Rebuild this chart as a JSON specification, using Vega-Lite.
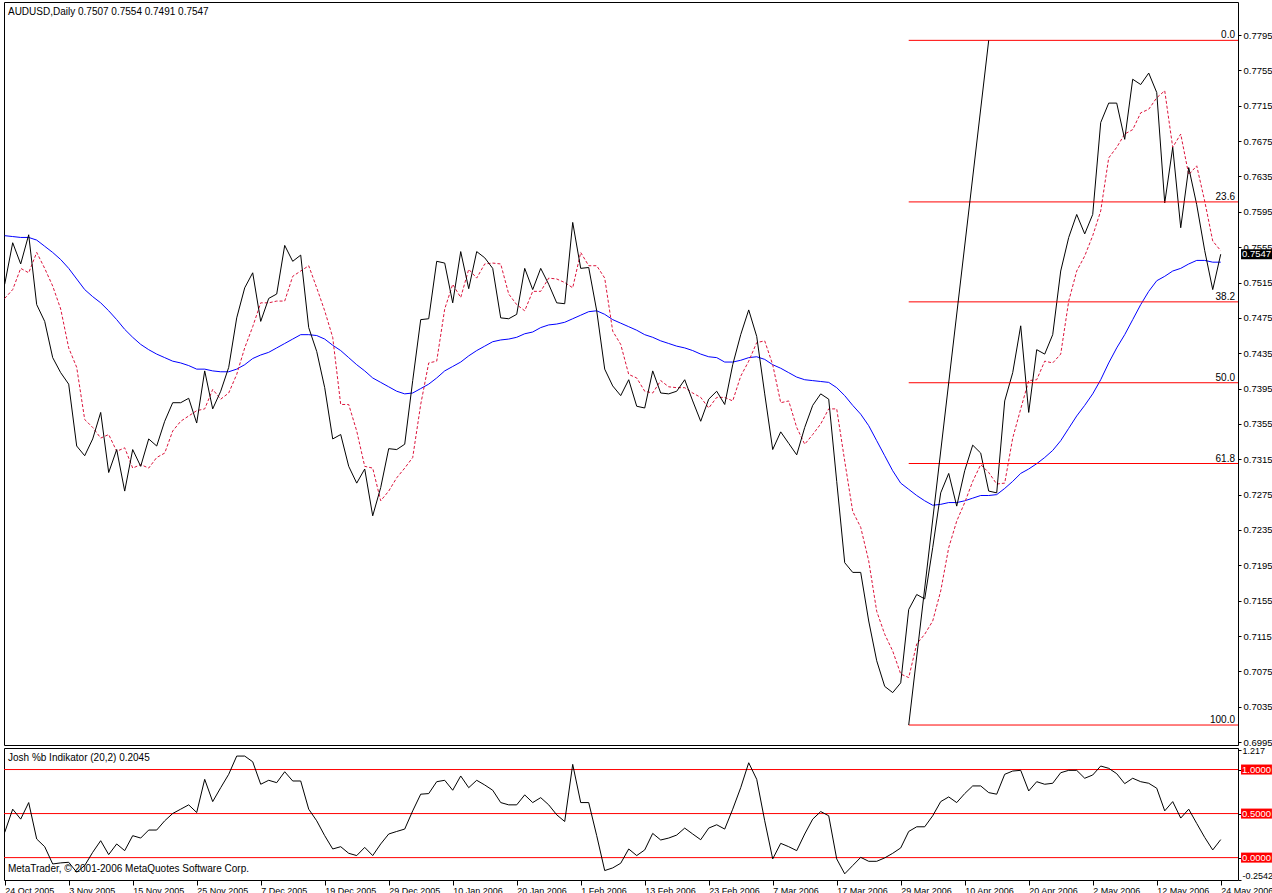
{
  "$schema": "https://vega.github.io/schema/vega-lite/v6.json",
  "padding": {"left": 2, "top": 1, "right": 0, "bottom": 0},
  "background": "#ffffff",
  "spacing": 3,
  "bounds": "flush",
  "config": {
    "view": {"stroke": "#000000", "strokeWidth": 1},
    "axis": {"domain": false, "grid": false, "tickColor": "#000000", "labelColor": "#000000", "labelFont": "Liberation Sans", "labelFontSize": 9.5, "labelOverlap": false, "labelBound": false},
    "text": {"font": "Liberation Sans", "fontSize": 10, "color": "#000000"}
  },
  "datasets": {
    "bars": [
      {"i":0,"close":0.7513,"fast":0.7497,"slow":0.7568,"pctb":0.286},
      {"i":1,"close":0.7560,"fast":0.7507,"slow":0.7567,"pctb":0.550},
      {"i":2,"close":0.7536,"fast":0.7531,"slow":0.7566,"pctb":0.437},
      {"i":3,"close":0.7569,"fast":0.7526,"slow":0.7566,"pctb":0.625},
      {"i":4,"close":0.7490,"fast":0.7549,"slow":0.7563,"pctb":0.211},
      {"i":5,"close":0.7471,"fast":0.7531,"slow":0.7556,"pctb":0.124},
      {"i":6,"close":0.7430,"fast":0.7511,"slow":0.7549,"pctb":-0.072},
      {"i":7,"close":0.7413,"fast":0.7485,"slow":0.7541,"pctb":-0.060},
      {"i":8,"close":0.7400,"fast":0.7441,"slow":0.7531,"pctb":-0.053},
      {"i":9,"close":0.7330,"fast":0.7419,"slow":0.7519,"pctb":-0.166},
      {"i":10,"close":0.7319,"fast":0.7360,"slow":0.7507,"pctb":-0.090},
      {"i":11,"close":0.7338,"fast":0.7351,"slow":0.7499,"pctb":0.060},
      {"i":12,"close":0.7368,"fast":0.7339,"slow":0.7492,"pctb":0.192},
      {"i":13,"close":0.7300,"fast":0.7343,"slow":0.7483,"pctb":0.034},
      {"i":14,"close":0.7326,"fast":0.7324,"slow":0.7473,"pctb":0.155},
      {"i":15,"close":0.7279,"fast":0.7328,"slow":0.7462,"pctb":0.079},
      {"i":16,"close":0.7326,"fast":0.7305,"slow":0.7453,"pctb":0.249},
      {"i":17,"close":0.7307,"fast":0.7309,"slow":0.7445,"pctb":0.222},
      {"i":18,"close":0.7338,"fast":0.7305,"slow":0.7439,"pctb":0.313},
      {"i":19,"close":0.7330,"fast":0.7317,"slow":0.7434,"pctb":0.313},
      {"i":20,"close":0.7358,"fast":0.7322,"slow":0.7430,"pctb":0.418},
      {"i":21,"close":0.7379,"fast":0.7347,"slow":0.7426,"pctb":0.501},
      {"i":22,"close":0.7379,"fast":0.7358,"slow":0.7424,"pctb":0.550},
      {"i":23,"close":0.7384,"fast":0.7364,"slow":0.7421,"pctb":0.599},
      {"i":24,"close":0.7356,"fast":0.7370,"slow":0.7417,"pctb":0.512},
      {"i":25,"close":0.7415,"fast":0.7372,"slow":0.7417,"pctb":0.889},
      {"i":26,"close":0.7372,"fast":0.7394,"slow":0.7415,"pctb":0.636},
      {"i":27,"close":0.7392,"fast":0.7383,"slow":0.7414,"pctb":0.794},
      {"i":28,"close":0.7419,"fast":0.7390,"slow":0.7414,"pctb":0.946},
      {"i":29,"close":0.7475,"fast":0.7411,"slow":0.7417,"pctb":1.153},
      {"i":30,"close":0.7509,"fast":0.7441,"slow":0.7422,"pctb":1.153},
      {"i":31,"close":0.7526,"fast":0.7465,"slow":0.7429,"pctb":1.088},
      {"i":32,"close":0.7471,"fast":0.7492,"slow":0.7433,"pctb":0.833},
      {"i":33,"close":0.7497,"fast":0.7492,"slow":0.7436,"pctb":0.878},
      {"i":34,"close":0.7502,"fast":0.7494,"slow":0.7441,"pctb":0.851},
      {"i":35,"close":0.7557,"fast":0.7494,"slow":0.7446,"pctb":0.975},
      {"i":36,"close":0.7539,"fast":0.7522,"slow":0.7451,"pctb":0.870},
      {"i":37,"close":0.7546,"fast":0.7528,"slow":0.7456,"pctb":0.870},
      {"i":38,"close":0.7464,"fast":0.7534,"slow":0.7456,"pctb":0.550},
      {"i":39,"close":0.7437,"fast":0.7509,"slow":0.7455,"pctb":0.418},
      {"i":40,"close":0.7396,"fast":0.7483,"slow":0.7451,"pctb":0.249},
      {"i":41,"close":0.7338,"fast":0.7453,"slow":0.7444,"pctb":0.098},
      {"i":42,"close":0.7343,"fast":0.7377,"slow":0.7438,"pctb":0.124},
      {"i":43,"close":0.7307,"fast":0.7377,"slow":0.7430,"pctb":0.049},
      {"i":44,"close":0.7288,"fast":0.7347,"slow":0.7422,"pctb":0.023},
      {"i":45,"close":0.7304,"fast":0.7307,"slow":0.7415,"pctb":0.116},
      {"i":46,"close":0.7251,"fast":0.7305,"slow":0.7407,"pctb":0.023},
      {"i":47,"close":0.7283,"fast":0.7268,"slow":0.7402,"pctb":0.155},
      {"i":48,"close":0.7327,"fast":0.7279,"slow":0.7397,"pctb":0.268},
      {"i":49,"close":0.7326,"fast":0.7294,"slow":0.7392,"pctb":0.297},
      {"i":50,"close":0.7332,"fast":0.7305,"slow":0.7389,"pctb":0.324},
      {"i":51,"close":0.7404,"fast":0.7317,"slow":0.7390,"pctb":0.531},
      {"i":52,"close":0.7473,"fast":0.7377,"slow":0.7395,"pctb":0.720},
      {"i":53,"close":0.7474,"fast":0.7424,"slow":0.7400,"pctb":0.727},
      {"i":54,"close":0.7539,"fast":0.7426,"slow":0.7407,"pctb":0.862},
      {"i":55,"close":0.7537,"fast":0.7485,"slow":0.7415,"pctb":0.878},
      {"i":56,"close":0.7492,"fast":0.7513,"slow":0.7420,"pctb":0.765},
      {"i":57,"close":0.7550,"fast":0.7498,"slow":0.7425,"pctb":0.927},
      {"i":58,"close":0.7508,"fast":0.7530,"slow":0.7432,"pctb":0.794},
      {"i":59,"close":0.7550,"fast":0.7520,"slow":0.7438,"pctb":0.878},
      {"i":60,"close":0.7543,"fast":0.7536,"slow":0.7443,"pctb":0.825},
      {"i":61,"close":0.7531,"fast":0.7537,"slow":0.7448,"pctb":0.765},
      {"i":62,"close":0.7475,"fast":0.7536,"slow":0.7450,"pctb":0.625},
      {"i":63,"close":0.7474,"fast":0.7502,"slow":0.7451,"pctb":0.599},
      {"i":64,"close":0.7479,"fast":0.7490,"slow":0.7453,"pctb":0.599},
      {"i":65,"close":0.7531,"fast":0.7483,"slow":0.7457,"pctb":0.712},
      {"i":66,"close":0.7507,"fast":0.7505,"slow":0.7459,"pctb":0.625},
      {"i":67,"close":0.7531,"fast":0.7505,"slow":0.7464,"pctb":0.681},
      {"i":68,"close":0.7513,"fast":0.7520,"slow":0.7467,"pctb":0.599},
      {"i":69,"close":0.7492,"fast":0.7519,"slow":0.7468,"pctb":0.486},
      {"i":70,"close":0.7491,"fast":0.7515,"slow":0.7470,"pctb":0.410},
      {"i":71,"close":0.7583,"fast":0.7509,"slow":0.7474,"pctb":1.059},
      {"i":72,"close":0.7531,"fast":0.7549,"slow":0.7478,"pctb":0.625},
      {"i":73,"close":0.7532,"fast":0.7534,"slow":0.7482,"pctb":0.625},
      {"i":74,"close":0.7483,"fast":0.7534,"slow":0.7483,"pctb":0.249},
      {"i":75,"close":0.7417,"fast":0.7520,"slow":0.7479,"pctb":-0.147},
      {"i":76,"close":0.7398,"fast":0.7460,"slow":0.7473,"pctb":-0.117},
      {"i":77,"close":0.7387,"fast":0.7445,"slow":0.7469,"pctb":-0.064},
      {"i":78,"close":0.7405,"fast":0.7411,"slow":0.7465,"pctb":0.098},
      {"i":79,"close":0.7375,"fast":0.7407,"slow":0.7461,"pctb":0.023},
      {"i":80,"close":0.7373,"fast":0.7392,"slow":0.7456,"pctb":0.087},
      {"i":81,"close":0.7415,"fast":0.7390,"slow":0.7453,"pctb":0.275},
      {"i":82,"close":0.7390,"fast":0.7404,"slow":0.7449,"pctb":0.200},
      {"i":83,"close":0.7389,"fast":0.7397,"slow":0.7446,"pctb":0.222},
      {"i":84,"close":0.7392,"fast":0.7396,"slow":0.7443,"pctb":0.256},
      {"i":85,"close":0.7405,"fast":0.7396,"slow":0.7441,"pctb":0.335},
      {"i":86,"close":0.7381,"fast":0.7390,"slow":0.7438,"pctb":0.268},
      {"i":87,"close":0.7358,"fast":0.7385,"slow":0.7434,"pctb":0.203},
      {"i":88,"close":0.7383,"fast":0.7373,"slow":0.7431,"pctb":0.335},
      {"i":89,"close":0.7392,"fast":0.7385,"slow":0.7430,"pctb":0.373},
      {"i":90,"close":0.7377,"fast":0.7385,"slow":0.7425,"pctb":0.324},
      {"i":91,"close":0.7422,"fast":0.7381,"slow":0.7425,"pctb":0.550},
      {"i":92,"close":0.7456,"fast":0.7409,"slow":0.7427,"pctb":0.794},
      {"i":93,"close":0.7484,"fast":0.7426,"slow":0.7430,"pctb":1.077},
      {"i":94,"close":0.7454,"fast":0.7447,"slow":0.7431,"pctb":0.889},
      {"i":95,"close":0.7389,"fast":0.7449,"slow":0.7428,"pctb":0.418},
      {"i":96,"close":0.7326,"fast":0.7422,"slow":0.7422,"pctb":-0.015},
      {"i":97,"close":0.7346,"fast":0.7379,"slow":0.7418,"pctb":0.162},
      {"i":98,"close":0.7333,"fast":0.7381,"slow":0.7413,"pctb":0.124},
      {"i":99,"close":0.7320,"fast":0.7351,"slow":0.7408,"pctb":0.079},
      {"i":100,"close":0.7351,"fast":0.7332,"slow":0.7405,"pctb":0.268},
      {"i":101,"close":0.7376,"fast":0.7343,"slow":0.7404,"pctb":0.437},
      {"i":102,"close":0.7389,"fast":0.7355,"slow":0.7403,"pctb":0.523},
      {"i":103,"close":0.7383,"fast":0.7372,"slow":0.7402,"pctb":0.475},
      {"i":104,"close":0.7290,"fast":0.7372,"slow":0.7396,"pctb":-0.015},
      {"i":105,"close":0.7198,"fast":0.7313,"slow":0.7387,"pctb":-0.184},
      {"i":106,"close":0.7187,"fast":0.7256,"slow":0.7376,"pctb":-0.090},
      {"i":107,"close":0.7187,"fast":0.7238,"slow":0.7366,"pctb":0.003},
      {"i":108,"close":0.7132,"fast":0.7200,"slow":0.7353,"pctb":-0.042},
      {"i":109,"close":0.7087,"fast":0.7143,"slow":0.7336,"pctb":-0.042},
      {"i":110,"close":0.7058,"fast":0.7117,"slow":0.7319,"pctb":-0.003},
      {"i":111,"close":0.7051,"fast":0.7098,"slow":0.7302,"pctb":0.049},
      {"i":112,"close":0.7062,"fast":0.7072,"slow":0.7288,"pctb":0.110},
      {"i":113,"close":0.7145,"fast":0.7068,"slow":0.7281,"pctb":0.297},
      {"i":114,"close":0.7162,"fast":0.7106,"slow":0.7274,"pctb":0.350},
      {"i":115,"close":0.7157,"fast":0.7117,"slow":0.7268,"pctb":0.350},
      {"i":116,"close":0.7215,"fast":0.7132,"slow":0.7263,"pctb":0.475},
      {"i":117,"close":0.7277,"fast":0.7166,"slow":0.7264,"pctb":0.636},
      {"i":118,"close":0.7299,"fast":0.7215,"slow":0.7266,"pctb":0.689},
      {"i":119,"close":0.7262,"fast":0.7245,"slow":0.7266,"pctb":0.625},
      {"i":120,"close":0.7302,"fast":0.7266,"slow":0.7268,"pctb":0.727},
      {"i":121,"close":0.7331,"fast":0.7290,"slow":0.7271,"pctb":0.814},
      {"i":122,"close":0.7322,"fast":0.7309,"slow":0.7274,"pctb":0.814},
      {"i":123,"close":0.7279,"fast":0.7300,"slow":0.7274,"pctb":0.738},
      {"i":124,"close":0.7277,"fast":0.7287,"slow":0.7275,"pctb":0.720},
      {"i":125,"close":0.7381,"fast":0.7288,"slow":0.7282,"pctb":0.946},
      {"i":126,"close":0.7413,"fast":0.7339,"slow":0.7290,"pctb":0.983},
      {"i":127,"close":0.7466,"fast":0.7372,"slow":0.7299,"pctb":0.991},
      {"i":128,"close":0.7368,"fast":0.7404,"slow":0.7304,"pctb":0.757},
      {"i":129,"close":0.7439,"fast":0.7405,"slow":0.7310,"pctb":0.862},
      {"i":130,"close":0.7434,"fast":0.7426,"slow":0.7317,"pctb":0.833},
      {"i":131,"close":0.7456,"fast":0.7424,"slow":0.7325,"pctb":0.844},
      {"i":132,"close":0.7528,"fast":0.7434,"slow":0.7336,"pctb":0.964},
      {"i":133,"close":0.7566,"fast":0.7494,"slow":0.7350,"pctb":0.991},
      {"i":134,"close":0.7592,"fast":0.7528,"slow":0.7364,"pctb":0.991},
      {"i":135,"close":0.7570,"fast":0.7545,"slow":0.7376,"pctb":0.901},
      {"i":136,"close":0.7592,"fast":0.7568,"slow":0.7389,"pctb":0.938},
      {"i":137,"close":0.7696,"fast":0.7596,"slow":0.7405,"pctb":1.040},
      {"i":138,"close":0.7718,"fast":0.7656,"slow":0.7424,"pctb":1.014},
      {"i":139,"close":0.7718,"fast":0.7668,"slow":0.7441,"pctb":0.953},
      {"i":140,"close":0.7677,"fast":0.7683,"slow":0.7456,"pctb":0.840},
      {"i":141,"close":0.7745,"fast":0.7688,"slow":0.7473,"pctb":0.901},
      {"i":142,"close":0.7739,"fast":0.7707,"slow":0.7490,"pctb":0.862},
      {"i":143,"close":0.7752,"fast":0.7711,"slow":0.7505,"pctb":0.844},
      {"i":144,"close":0.7730,"fast":0.7724,"slow":0.7517,"pctb":0.788},
      {"i":145,"close":0.7605,"fast":0.7732,"slow":0.7522,"pctb":0.531},
      {"i":146,"close":0.7668,"fast":0.7668,"slow":0.7528,"pctb":0.636},
      {"i":147,"close":0.7577,"fast":0.7683,"slow":0.7531,"pctb":0.449},
      {"i":148,"close":0.7645,"fast":0.7637,"slow":0.7536,"pctb":0.550},
      {"i":149,"close":0.7603,"fast":0.7647,"slow":0.7540,"pctb":0.388},
      {"i":150,"close":0.7551,"fast":0.7607,"slow":0.7540,"pctb":0.229},
      {"i":151,"close":0.7507,"fast":0.7562,"slow":0.7538,"pctb":0.087},
      {"i":152,"close":0.7547,"fast":0.7551,"slow":0.7538,"pctb":0.2045}
    ],
    "fib": [
      {"level":"0.0","price":0.7789,"start":113,"end":154.16},
      {"level":"23.6","price":0.76062,"start":113,"end":154.16},
      {"level":"38.2","price":0.74931,"start":113,"end":154.16},
      {"level":"50.0","price":0.74016,"start":113,"end":154.16},
      {"level":"61.8","price":0.73102,"start":113,"end":154.16},
      {"level":"100.0","price":0.70143,"start":113,"end":154.16}
    ],
    "trend": [{"start":113,"end":123,"p1":0.70143,"p2":0.7789}],
    "lastprice": [{"label":"0.7547","price":0.7547,"top":0.75527,"bottom":0.75413,"left":154.54,"right":158.7}],
    "levels": [
      {"label":"1.0000","lvl":1.0,"top":1.0568,"bottom":0.9432,"left":154.54,"right":158.4},
      {"label":"0.5000","lvl":0.5,"top":0.5568,"bottom":0.4432,"left":154.54,"right":158.4},
      {"label":"0.0000","lvl":0.0,"top":0.0568,"bottom":-0.0568,"left":154.54,"right":158.4}
    ]
  },
  "vconcat": [
    {
      "width": 1234,
      "height": 743,
      "layer": [
        {
          "data": {"name": "bars"},
          "mark": {"type": "line", "color": "#0000ff", "strokeWidth": 1},
          "encoding": {
            "x": {"field": "i", "type": "quantitative", "scale": {"domain": [-0.0875, 154.16], "nice": false, "zero": false}, "axis": null},
            "y": {"field": "slow", "type": "quantitative", "scale": {"domain": [0.69917, 0.78324], "nice": false, "zero": false},
              "axis": {"orient": "right", "title": null, "values": [0.6995,0.7035,0.7075,0.7115,0.7155,0.7195,0.7235,0.7275,0.7315,0.7355,0.7395,0.7435,0.7475,0.7515,0.7555,0.7595,0.7635,0.7675,0.7715,0.7755,0.7795], "tickCount": 60, "format": ".4f", "tickSize": 3, "labelPadding": 2, "labelFlush": false, "labelOverlap": false}}
          }
        },
        {
          "data": {"name": "bars"},
          "mark": {"type": "line", "color": "#dc143c", "strokeWidth": 1, "strokeDash": [3, 2]},
          "encoding": {
            "x": {"field": "i", "type": "quantitative", "axis": null},
            "y": {"field": "fast", "type": "quantitative"}
          }
        },
        {
          "data": {"name": "bars"},
          "mark": {"type": "line", "color": "#000000", "strokeWidth": 1},
          "encoding": {
            "x": {"field": "i", "type": "quantitative", "axis": null},
            "y": {"field": "close", "type": "quantitative"}
          }
        },
        {
          "data": {"name": "fib"},
          "mark": {"type": "rule", "color": "#ff0000", "strokeWidth": 1},
          "encoding": {
            "x": {"field": "start", "type": "quantitative", "axis": null},
            "x2": {"field": "end"},
            "y": {"field": "price", "type": "quantitative"}
          }
        },
        {
          "data": {"name": "fib"},
          "mark": {"type": "text", "align": "right", "baseline": "alphabetic", "dx": -3, "dy": -2, "fontSize": 10, "color": "#000000"},
          "encoding": {
            "x": {"field": "end", "type": "quantitative", "axis": null},
            "y": {"field": "price", "type": "quantitative"},
            "text": {"field": "level"}
          }
        },
        {
          "data": {"name": "trend"},
          "mark": {"type": "rule", "color": "#000000", "strokeWidth": 1},
          "encoding": {
            "x": {"field": "start", "type": "quantitative", "axis": null},
            "x2": {"field": "end"},
            "y": {"field": "p1", "type": "quantitative"},
            "y2": {"field": "p2"}
          }
        },
        {
          "data": {"name": "lastprice"},
          "mark": {"type": "rect", "color": "#000000"},
          "encoding": {
            "x": {"field": "left", "type": "quantitative", "axis": null},
            "x2": {"field": "right"},
            "y": {"field": "top", "type": "quantitative"},
            "y2": {"field": "bottom"}
          }
        },
        {
          "data": {"name": "lastprice"},
          "mark": {"type": "text", "align": "left", "baseline": "middle", "dx": 1, "fontSize": 9.5, "color": "#ffffff"},
          "encoding": {
            "x": {"field": "left", "type": "quantitative", "axis": null},
            "y": {"field": "price", "type": "quantitative"},
            "text": {"field": "label"}
          }
        },
        {
          "data": {"values": [{"label": "AUDUSD,Daily  0.7507 0.7554 0.7491 0.7547"}]},
          "mark": {"type": "text", "align": "left", "baseline": "middle", "fontSize": 10, "color": "#000000"},
          "encoding": {
            "x": {"datum": 0.41, "type": "quantitative", "axis": null},
            "y": {"datum": 0.7821, "type": "quantitative"},
            "text": {"field": "label"}
          }
        }
      ]
    },
    {
      "width": 1234,
      "height": 132,
      "layer": [
        {
          "data": {"name": "levels"},
          "mark": {"type": "rule", "color": "#ff0000", "strokeWidth": 1},
          "encoding": {
            "y": {"field": "lvl", "type": "quantitative", "scale": {"domain": [-0.2542, 1.2446], "nice": false, "zero": false},
              "axis": {"orient": "right", "title": null, "values": [1.217, 1.0, 0.5, 0.0, -0.2542], "tickCount": 20, "labelExpr": "datum.value > 1.1 ? '1.217' : (datum.value < -0.1 ? '-0.2542' : '')", "tickSize": 3, "labelPadding": 1, "labelFontSize": 9, "labelFlush": true, "labelOverlap": false}}
          }
        },
        {
          "data": {"name": "bars"},
          "mark": {"type": "line", "color": "#000000", "strokeWidth": 1},
          "encoding": {
            "x": {"field": "i", "type": "quantitative", "scale": {"domain": [-0.0875, 154.16], "nice": false, "zero": false},
              "axis": {"orient": "bottom", "title": null, "values": [0,8,16,24,32,40,48,56,64,72,80,88,96,104,112,120,128,136,144,152], "tickCount": 60,
                "labelExpr": "['24 Oct 2005','3 Nov 2005','15 Nov 2005','25 Nov 2005','7 Dec 2005','19 Dec 2005','29 Dec 2005','10 Jan 2006','20 Jan 2006','1 Feb 2006','13 Feb 2006','23 Feb 2006','7 Mar 2006','17 Mar 2006','29 Mar 2006','10 Apr 2006','20 Apr 2006','2 May 2006','12 May 2006','24 May 2006'][round(datum.value / 8)]",
                "tickSize": 5, "labelPadding": 8, "labelFontSize": 9, "labelAlign": "left", "labelBaseline": "alphabetic", "labelFlush": false, "labelOverlap": false}},
            "y": {"field": "pctb", "type": "quantitative"}
          }
        },
        {
          "data": {"name": "levels"},
          "mark": {"type": "rect", "color": "#ff0000"},
          "encoding": {
            "x": {"field": "left", "type": "quantitative"},
            "x2": {"field": "right"},
            "y": {"field": "top", "type": "quantitative"},
            "y2": {"field": "bottom"}
          }
        },
        {
          "data": {"name": "levels"},
          "mark": {"type": "text", "align": "left", "baseline": "middle", "dx": 1, "fontSize": 9.5, "color": "#ffffff"},
          "encoding": {
            "x": {"field": "left", "type": "quantitative"},
            "y": {"field": "lvl", "type": "quantitative"},
            "text": {"field": "label"}
          }
        },
        {
          "data": {"values": [
            {"label": "Josh %b Indikator (20,2) 0.2045", "xpos": 0.41, "ypos": 1.128},
            {"label": "MetaTrader, © 2001-2006 MetaQuotes Software Corp.", "xpos": 0.41, "ypos": -0.126}
          ]},
          "mark": {"type": "text", "align": "left", "baseline": "middle", "fontSize": 10, "color": "#000000"},
          "encoding": {
            "x": {"field": "xpos", "type": "quantitative"},
            "y": {"field": "ypos", "type": "quantitative"},
            "text": {"field": "label"}
          }
        }
      ]
    }
  ]
}
